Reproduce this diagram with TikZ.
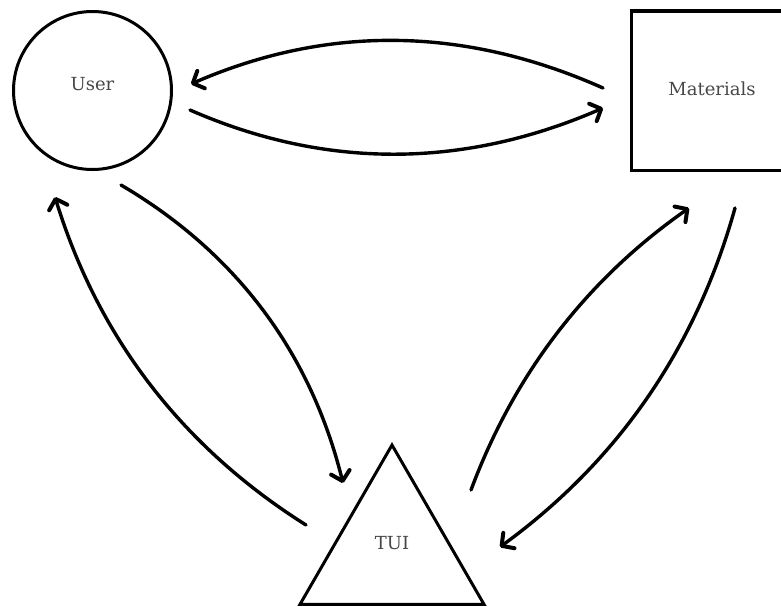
\documentclass[tikz,border=0pt]{standalone}
\usepackage{fontspec}
\setmainfont{DejaVu Serif}
\usetikzlibrary{arrows.meta,shapes.geometric}
\begin{document}
\begin{tikzpicture}[x=1pt,y=-1pt,
  actor/.style={draw=black,line width=3pt,inner sep=0pt},
  lbl/.style={font=\fontsize{18}{21}\selectfont,text=black!72},
  arr/.style={line width=3.4pt,line cap=round,
    -{Straight Barb[length=9pt,width=19pt,line width=4pt,round]}}]
\useasboundingbox (0,0) rectangle (781,606);
\clip (0,0) rectangle (781,606);

% the three actors
\node[actor,circle,minimum size=158pt] (user) at (92.5,90.5) {};
\node[actor,rectangle,line width=3.5pt,minimum width=161pt,minimum height=159.5pt] (mat) at (712,90.75) {};
\node[actor,regular polygon,regular polygon sides=3,minimum size=212.4pt] (tui) at (392,551.2) {};

\node[lbl] (userlbl) at (92.5,84) {User};
\node[lbl] (matlbl) at (712,89) {Materials};
\node[lbl] (tuilbl) at (392,543) {TUI};

% connector ends
\coordinate (um1) at (603,88);  \coordinate (mu1) at (191,84);
\coordinate (um2) at (190,110); \coordinate (mu2) at (603,108);
\coordinate (ut1) at (121,185); \coordinate (tu1) at (343,483);
\coordinate (tu2) at (306,525); \coordinate (ut2) at (55,197);
\coordinate (tm1) at (471,490); \coordinate (mt1) at (689,208);
\coordinate (mt2) at (735,208); \coordinate (tm2) at (500,547);

% flows between them
\draw[arr] (um1) .. controls (466,27) and (329,24) .. (mu1);
\draw[arr] (um2) .. controls (327,170) and (465,168) .. (mu2);
\draw[arr] (ut1) .. controls (236.7,253) and (310.7,353) .. (tu1);
\draw[arr] (tu2) .. controls (181.8,446.7) and (98.2,337.3) .. (ut2);
\draw[arr] (tm1) .. controls (514.4,373.4) and (587,279.4) .. (mt1);
\draw[arr] (mt2) .. controls (696,348) and (618,461) .. (tm2);
\end{tikzpicture}
\end{document}
